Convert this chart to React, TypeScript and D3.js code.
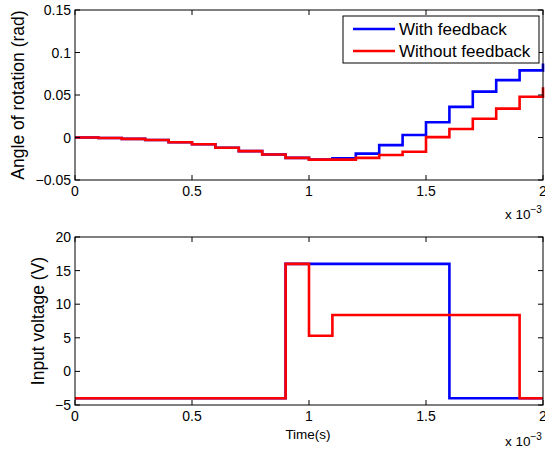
import React from "react";
import * as d3 from "d3";

const times = d3.range(0, 21).map((i) => i * 0.1); // x 10^-3 s
const angleWith = [0, -0.0005, -0.0016, -0.003, -0.0055, -0.008, -0.012, -0.016, -0.02, -0.024, -0.026, -0.0245, -0.019, -0.009, 0.003, 0.018, 0.036, 0.054, 0.0675, 0.079, 0.087];
const angleWithout = [0, -0.0005, -0.0016, -0.003, -0.0055, -0.008, -0.012, -0.016, -0.02, -0.024, -0.026, -0.026, -0.024, -0.0205, -0.0167, 0.0004, 0.01, 0.022, 0.034, 0.048, 0.059];
const voltWith = [-4, -4, -4, -4, -4, -4, -4, -4, -4, 16, 16, 16, 16, 16, 16, 16, -4, -4, -4, -4, -4];
const voltWithout = [-4, -4, -4, -4, -4, -4, -4, -4, -4, 16, 5.3, 8.4, 8.4, 8.4, 8.4, 8.4, 8.4, 8.4, 8.4, -4, -4];
const xTicks = [0, 0.5, 1, 1.5, 2];
const angleTicks = [-0.05, 0, 0.05, 0.1, 0.15];
const voltTicks = [-5, 0, 5, 10, 15, 20];
const seriesNames = ["With feedback", "Without feedback"];
const colors = ["#0000ff", "#ff0000"];

const FONT = "Liberation Sans, Arial, Helvetica, sans-serif";
const L = 75, R = 543;

function Panel({ top, bottom, yDomain, yTicks, fmt, s1, s2, ylabel, ylabelX, xlabel, clipId, legend, expY }: any) {
  const x = d3.scaleLinear().domain([0, 2]).range([L, R]);
  const y = d3.scaleLinear().domain(yDomain).range([bottom, top]);
  const line = d3.line<number>().x((_, i) => x(times[i])).y((d) => y(d)).curve(d3.curveStepAfter);
  const tl = 5;
  return (
    <g>
      <defs>
        <clipPath id={clipId}>
          <rect x={L} y={top - 2} width={R - L + 2} height={bottom - top + 4} />
        </clipPath>
      </defs>
      <g clipPath={`url(#${clipId})`}>
        <path d={line(s1) || ""} fill="none" stroke={colors[0]} strokeWidth={2.6} />
        <path d={line(s2) || ""} fill="none" stroke={colors[1]} strokeWidth={2.6} />
      </g>
      <rect x={L} y={top} width={R - L} height={bottom - top} fill="none" stroke="#000" strokeWidth={1} />
      {xTicks.map((t) => (
        <g key={"x" + t}>
          <line x1={x(t)} x2={x(t)} y1={bottom} y2={bottom - tl} stroke="#000" />
          <line x1={x(t)} x2={x(t)} y1={top} y2={top + tl} stroke="#000" />
          <text x={x(t)} y={bottom + 16} textAnchor="middle" fontSize={14} fontFamily={FONT} fill="#000">
            {String(t)}
          </text>
        </g>
      ))}
      {yTicks.map((t: number) => (
        <g key={"y" + t}>
          <line x1={L} x2={L + tl} y1={y(t)} y2={y(t)} stroke="#000" />
          <line x1={R} x2={R - tl} y1={y(t)} y2={y(t)} stroke="#000" />
          <text x={L - 4} y={y(t) + 5} textAnchor="end" fontSize={14} fontFamily={FONT} fill="#000">
            {fmt(t)}
          </text>
        </g>
      ))}
      <text x={505} y={expY} fontSize={13.5} fontFamily={FONT} fill="#000">
        x 10<tspan dy={-6} fontSize={10}>−3</tspan>
      </text>
      <text
        transform={`translate(${ylabelX},${(top + bottom) / 2}) rotate(-90)`}
        textAnchor="middle"
        fontSize={17.5}
        fontFamily={FONT}
        fill="#000"
      >
        {ylabel}
      </text>
      {xlabel && (
        <text x={(L + R) / 2 - 1} y={bottom + 34} textAnchor="middle" fontSize={13.5} fontFamily={FONT} fill="#000">
          {xlabel}
        </text>
      )}
      {legend && (
        <g>
          <rect x={343} y={16} width={196} height={47} fill="#fff" stroke="#000" strokeWidth={1} />
          {seriesNames.map((n, i) => (
            <g key={n}>
              <line x1={353} x2={395} y1={29 + i * 22} y2={29 + i * 22} stroke={colors[i]} strokeWidth={2.6} />
              <text x={399} y={29 + i * 22 + 6} fontSize={17} fontFamily={FONT} fill="#000">
                {n}
              </text>
            </g>
          ))}
        </g>
      )}
    </g>
  );
}

const fmtAngle = (v: number) => (v < 0 ? "−" + String(Math.abs(v)) : String(v));
const fmtVolt = (v: number) => (v < 0 ? "−" + String(Math.abs(v)) : String(v));

export default function App() {
  return (
    <svg width={545} height={451} style={{ position: "absolute", left: 0, top: 0, background: "#fff" }}>
      <rect width={545} height={451} fill="#fff" />
      <Panel
        top={10}
        bottom={180}
        yDomain={[-0.05, 0.15]}
        yTicks={angleTicks}
        fmt={fmtAngle}
        s1={angleWith}
        s2={angleWithout}
        ylabel="Angle of rotation (rad)"
        ylabelX={24}
        clipId="c1"
        expY={219}
        legend
      />
      <Panel
        top={237}
        bottom={405}
        yDomain={[-5, 20]}
        yTicks={voltTicks}
        fmt={fmtVolt}
        s1={voltWith}
        s2={voltWithout}
        ylabel="Input voltage (V)"
        ylabelX={44}
        xlabel="Time(s)"
        clipId="c2"
        expY={446}
      />
    </svg>
  );
}
